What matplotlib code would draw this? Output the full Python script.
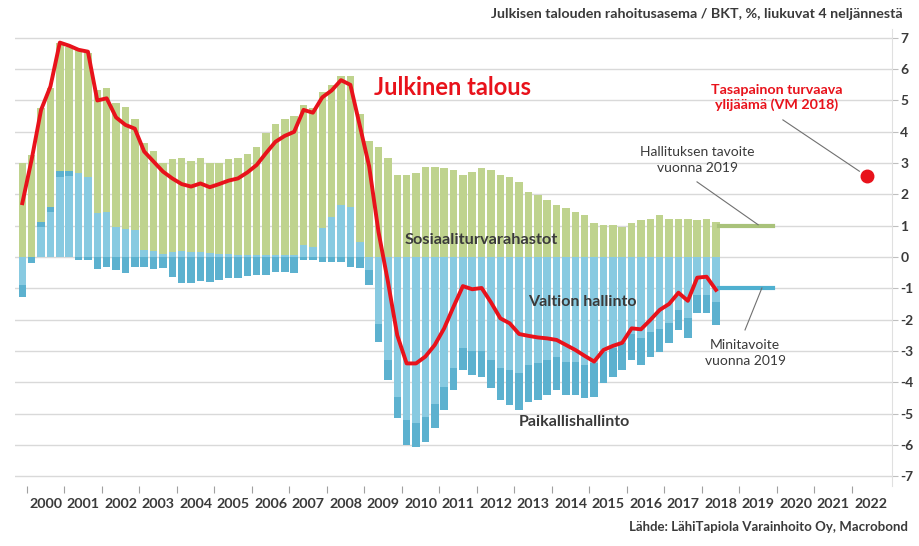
import numpy as np
import pandas as pd
import matplotlib
matplotlib.use('Agg')
import matplotlib.pyplot as plt

plt.rcParams['font.family'] = ['Lato', 'DejaVu Sans']

# Quarterly data, rolling 4 quarters, % of GDP (1999Q4 - 2018Q2)
quarters = pd.period_range('1999Q4', '2018Q2', freq='Q')

# Social security funds (Sosiaaliturvarahastot)
ssf = [3.00, 3.26, 3.62, 3.79, 4.07, 3.98, 3.93, 3.96, 3.95, 3.94,
       3.94, 3.87, 3.56, 3.41, 3.21, 2.91, 2.97, 2.97, 2.92, 3.00,
       2.89, 2.91, 3.04, 3.09, 3.24, 3.47, 3.92, 4.19, 4.35, 4.45,
       4.48, 4.42, 4.36, 4.21, 4.12, 4.18, 4.07, 3.70, 3.50, 3.15,
       2.62, 2.62, 2.67, 2.89, 2.89, 2.83, 2.78, 2.62, 2.73, 2.83,
       2.78, 2.62, 2.57, 2.41, 2.09, 1.98, 1.82, 1.66, 1.55, 1.45,
       1.34, 1.08, 1.02, 1.02, 0.96, 1.10, 1.18, 1.23, 1.34, 1.23,
       1.23, 1.20, 1.18, 1.20, 1.13]

# Central government (Valtion hallinto)
cg = [-0.90, 0.00, 0.97, 1.45, 2.57, 2.59, 2.67, 2.57, 1.39, 1.45,
      0.97, 0.91, 0.86, 0.22, 0.19, 0.08, 0.15, 0.18, 0.16, 0.15,
      0.12, 0.10, 0.08, 0.06, 0.05, 0.05, 0.05, 0.05, 0.05, 0.05,
      0.38, 0.33, 0.92, 1.29, 1.66, 1.60, 0.49, -0.40, -2.15, -3.29,
      -4.46, -5.20, -5.30, -5.10, -4.70, -4.15, -3.55, -2.90, -3.00, -3.00,
      -3.30, -3.55, -3.60, -3.70, -3.45, -3.40, -3.30, -3.20, -3.35, -3.35,
      -3.45, -3.40, -3.05, -2.90, -2.75, -2.45, -2.60, -2.40, -2.30, -2.10,
      -1.70, -1.95, -1.20, -1.20, -1.45]

# Local government (Paikallishallinto)
lg = [-0.37, -0.18, 0.16, 0.16, 0.19, 0.15, -0.08, -0.10, -0.39, -0.33,
      -0.41, -0.52, -0.33, -0.33, -0.37, -0.35, -0.65, -0.84, -0.82, -0.76,
      -0.79, -0.73, -0.68, -0.68, -0.62, -0.58, -0.58, -0.47, -0.47, -0.50,
      -0.10, -0.08, -0.15, -0.15, -0.15, -0.31, -0.36, -0.49, -0.55, -0.64,
      -0.69, -0.80, -0.76, -0.80, -0.77, -0.74, -0.70, -0.71, -0.77, -0.83,
      -0.90, -1.02, -1.13, -1.19, -1.17, -1.17, -1.11, -1.05, -1.06, -1.06,
      -1.07, -1.06, -0.99, -0.92, -0.86, -0.84, -0.85, -0.78, -0.72, -0.66,
      -0.63, -0.65, -0.60, -0.60, -0.72]

# General government total (Julkinen talous)
total = [1.72, 3.12, 4.70, 5.45, 6.85, 6.75, 6.62, 6.56, 5.00, 5.07,
         4.46, 4.22, 4.10, 3.37, 3.05, 2.73, 2.51, 2.33, 2.25, 2.35,
         2.23, 2.33, 2.44, 2.51, 2.70, 2.94, 3.32, 3.68, 3.87, 4.00,
         4.70, 4.61, 5.10, 5.32, 5.65, 5.50, 4.20, 2.90, 0.80, -0.78,
         -2.50, -3.40, -3.40, -3.18, -2.81, -2.28, -1.59, -0.93, -1.03, -0.99,
         -1.45, -1.96, -2.12, -2.46, -2.52, -2.57, -2.60, -2.65, -2.81, -2.97,
         -3.16, -3.34, -2.97, -2.84, -2.74, -2.28, -2.31, -2.01, -1.69, -1.50,
         -1.14, -1.40, -0.66, -0.63, -1.05]

# 2019 targets and VM 2018 surplus estimate
target_years = [2018.45, 2019.9]
target_ssf = [1.0, 1.0]
target_min = [-1.0, -1.0]
vm_year = [2022.4]
vm_value = [2.6]

years = list(range(2000, 2023))

green = '#bfd38e'
light_blue = '#88cae1'
dark_blue = '#5cb1cf'
red = '#e8121b'
text_col = '#3a3a3a'

# x position = middle of each quarter
x = np.array([q.year + (q.quarter - 1) * 0.25 + 0.125 for q in quarters])
ssf = np.array(ssf)
cg = np.array(cg)
lg = np.array(lg)

cg_pos = np.clip(cg, 0, None)
cg_neg = np.clip(cg, None, 0)
lg_pos = np.clip(lg, 0, None)
lg_neg = np.clip(lg, None, 0)

fig = plt.figure(figsize=(9.2, 5.46), dpi=100)
ax = fig.add_axes([15 / 920, 0.1108, 877 / 920, 0.837])

# horizontal grid
for v in range(-7, 8):
    ax.axhline(v, color='#d9d9d9', lw=1, zorder=0)

w = 0.2
ax.bar(x, cg_pos, width=w, color=light_blue, zorder=2)
ax.bar(x, lg_pos, width=w, bottom=cg_pos, color=dark_blue, zorder=2)
ax.bar(x, ssf, width=w, bottom=cg_pos + lg_pos, color=green, zorder=2)
ax.bar(x, cg_neg, width=w, color=light_blue, zorder=2)
ax.bar(x, lg_neg, width=w, bottom=cg_neg, color=dark_blue, zorder=2)

ax.plot(x, total, color=red, lw=2.8, zorder=4, solid_joinstyle='round')

# targets
ax.plot(target_years, target_ssf, color='#a9c27a', lw=3, zorder=3)
ax.plot(target_years, target_min, color='#4fb0d0', lw=3, zorder=3)
ax.plot(vm_year, vm_value, 'o', color=red, ms=9, zorder=5)

# leader lines
ax.plot([2020.16, 2022.2], [4.38, 2.74], color='#707070', lw=0.8, zorder=3)
ax.plot([2017.87, 2019.5], [2.40, 1.03], color='#707070', lw=0.8, zorder=3)
ax.plot([2019.6, 2019.15], [-0.99, -2.33], color='#707070', lw=0.8, zorder=3)

# texts
ax.text(2011.36, 5.43, 'Julkinen talous', color=red, fontsize=17,
        fontweight='bold', ha='center', va='center', zorder=6)
ax.text(2020.0, 5.1, 'Tasapainon turvaava\nylijäämä (VM 2018)', color=red,
        fontsize=10.3, fontweight='bold', ha='center', va='center',
        linespacing=1.25, zorder=6)
ax.text(2017.87, 3.1, 'Hallituksen tavoite\nvuonna 2019', color=text_col,
        fontsize=10, ha='center', va='center', linespacing=1.35, zorder=6)
ax.text(2019.15, -3.07, 'Minitavoite\nvuonna 2019', color=text_col,
        fontsize=10, ha='center', va='center', linespacing=1.35, zorder=6)
ax.text(2012.11, 0.54, 'Sosiaaliturvarahastot', color=text_col, fontsize=11.8,
        fontweight='bold', ha='center', va='center', zorder=6)
ax.text(2014.8, -1.44, 'Valtion hallinto', color=text_col, fontsize=11.5,
        fontweight='bold', ha='center', va='center', zorder=6)
ax.text(2014.61, -5.27, 'Paikallishallinto', color=text_col, fontsize=11.5,
        fontweight='bold', ha='center', va='center', zorder=6)

# axes
ax.set_xlim(1999.68, 2023.07)
ax.set_ylim(-7.3, 7.3)
ax.yaxis.tick_right()
ax.set_yticks(range(-7, 8))
ax.set_yticklabels([str(v) for v in range(-7, 8)])
ax.tick_params(axis='y', length=4, color='#bfbfbf', labelsize=10,
               labelcolor=text_col, pad=2)
for lab in ax.get_yticklabels():
    lab.set_fontweight('bold')

ax.set_xticks(years)
ax.set_xticklabels([])
ax.set_xticks([y + 0.5 for y in years], minor=True)
ax.set_xticklabels([str(y) for y in years], minor=True)
ax.tick_params(axis='x', which='major', length=5, color='#a0a0a0', direction='out')
ax.tick_params(axis='x', which='minor', length=0, labelsize=10.3,
               labelcolor=text_col, pad=9)
for lab in ax.get_xticklabels(minor=True):
    lab.set_fontweight('bold')

for s in ['top', 'left', 'bottom']:
    ax.spines[s].set_visible(False)
ax.spines['right'].set_color('#e0e0e0')

fig.text(903 / 920, 1 - 14 / 546,
         'Julkisen talouden rahoitusasema / BKT, %, liukuvat 4 neljännestä',
         ha='right', va='center', fontsize=10.3, fontweight='bold', color=text_col)
fig.text(908 / 920, 1 - 527 / 546,
         'Lähde: LähiTapiola Varainhoito Oy, Macrobond',
         ha='right', va='center', fontsize=9.5, fontweight='bold', color=text_col)

fig.savefig('out.png', dpi=100)
